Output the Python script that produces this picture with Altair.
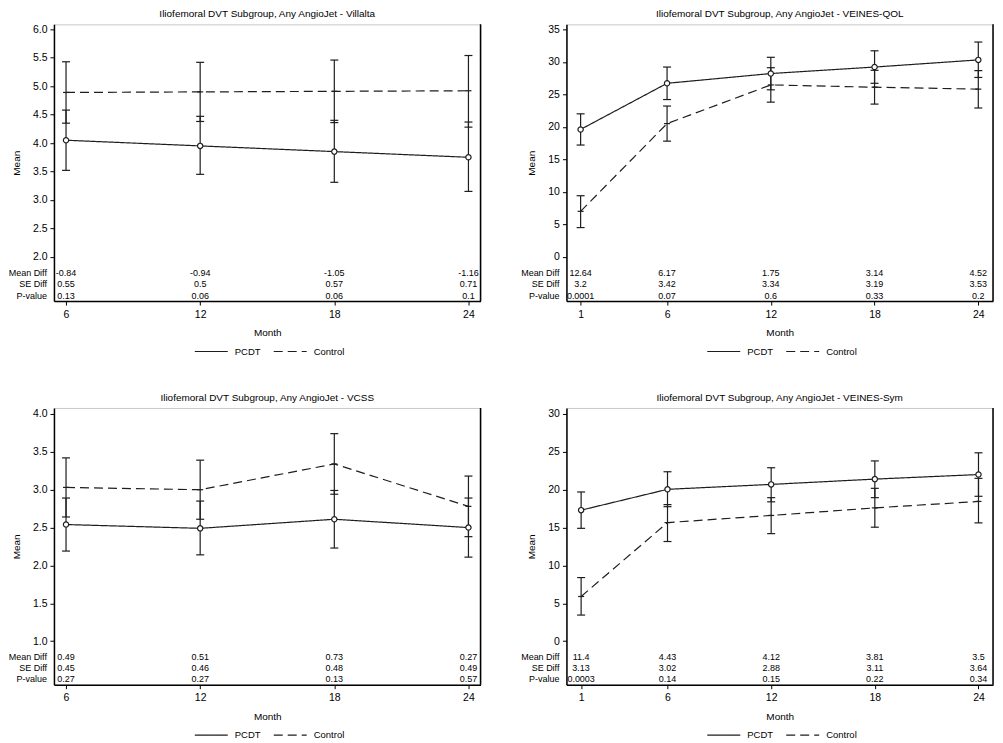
import altair as alt
import pandas as pd

FONT = "Liberation Sans"
INK = "#1e1e1e"

# ---------------- Panel data ----------------
# Villalta
vil_months = [6, 12, 18, 24]
vil_pcdt_mean = [4.05, 3.95, 3.85, 3.75]
vil_pcdt_lo = [3.52, 3.45, 3.31, 3.15]
vil_pcdt_hi = [4.58, 4.47, 4.40, 4.37]
vil_ctrl_mean = [4.89, 4.90, 4.91, 4.92]
vil_ctrl_lo = [4.35, 4.38, 4.36, 4.28]
vil_ctrl_hi = [5.43, 5.42, 5.46, 5.54]
vil_mean_diff = [-0.84, -0.94, -1.05, -1.16]
vil_se_diff = [0.55, 0.5, 0.57, 0.71]
vil_pval = [0.13, 0.06, 0.06, 0.1]
vil_yticks = [2.0, 2.5, 3.0, 3.5, 4.0, 4.5, 5.0, 5.5, 6.0]

# VEINES-QOL
qol_months = [1, 6, 12, 18, 24]
qol_pcdt_mean = [19.6, 26.7, 28.2, 29.2, 30.3]
qol_pcdt_lo = [17.2, 24.2, 25.7, 26.7, 27.6]
qol_pcdt_hi = [22.0, 29.2, 30.7, 31.7, 33.05]
qol_ctrl_mean = [7.0, 20.5, 26.45, 26.1, 25.8]
qol_ctrl_lo = [4.5, 17.8, 23.8, 23.5, 22.9]
qol_ctrl_hi = [9.4, 23.2, 29.1, 28.7, 28.65]
qol_mean_diff = [12.64, 6.17, 1.75, 3.14, 4.52]
qol_se_diff = [3.2, 3.42, 3.34, 3.19, 3.53]
qol_pval = [0.0001, 0.07, 0.6, 0.33, 0.2]
qol_yticks = [0, 5, 10, 15, 20, 25, 30, 35]

# VCSS
vcss_months = [6, 12, 18, 24]
vcss_pcdt_mean = [2.54, 2.49, 2.61, 2.50]
vcss_pcdt_lo = [2.19, 2.14, 2.23, 2.11]
vcss_pcdt_hi = [2.89, 2.85, 2.99, 2.89]
vcss_ctrl_mean = [3.03, 3.00, 3.34, 2.78]
vcss_ctrl_lo = [2.64, 2.61, 2.94, 2.38]
vcss_ctrl_hi = [3.42, 3.39, 3.74, 3.18]
vcss_mean_diff = [0.49, 0.51, 0.73, 0.27]
vcss_se_diff = [0.45, 0.46, 0.48, 0.49]
vcss_pval = [0.27, 0.27, 0.13, 0.57]
vcss_yticks = [1.0, 1.5, 2.0, 2.5, 3.0, 3.5, 4.0]

# VEINES-Sym
sym_months = [1, 6, 12, 18, 24]
sym_pcdt_mean = [17.3, 20.05, 20.7, 21.4, 22.0]
sym_pcdt_lo = [14.9, 17.76, 18.4, 18.95, 19.13]
sym_pcdt_hi = [19.7, 22.37, 22.9, 23.8, 24.87]
sym_ctrl_mean = [5.9, 15.66, 16.6, 17.6, 18.45]
sym_ctrl_lo = [3.45, 13.16, 14.2, 15.05, 15.62]
sym_ctrl_hi = [8.4, 18.03, 18.95, 20.18, 21.5]
sym_mean_diff = [11.4, 4.43, 4.12, 3.81, 3.5]
sym_se_diff = [3.13, 3.02, 2.88, 3.11, 3.64]
sym_pval = [0.0003, 0.14, 0.15, 0.22, 0.34]
sym_yticks = [0, 5, 10, 15, 20, 25, 30]

groups = ["PCDT", "Control"]
row_labels = ["Mean Diff", "SE Diff", "P-value"]

W, H = 427, 277


def panel(title, months, pm, plo, phi, cm, clo, chi, md, se, pv,
          xdom, ydom, yticks, yfmt):
    recs = []
    for i, m in enumerate(months):
        recs.append({"month": m, "group": groups[0], "mean": pm[i], "lo": plo[i], "hi": phi[i]})
    for i, m in enumerate(months):
        recs.append({"month": m, "group": groups[1], "mean": cm[i], "lo": clo[i], "hi": chi[i]})
    df = pd.DataFrame(recs)
    tab = pd.DataFrame({
        "month": months,
        "md": [str(v) for v in md],
        "se": [str(v) for v in se],
        "pv": [str(v) for v in pv],
    })

    xs = alt.Scale(domain=xdom, nice=False, zero=False)
    ys = alt.Scale(domain=ydom, nice=False, zero=False)
    xaxis = alt.Axis(values=months, title="Month", format="d")
    yaxis = alt.Axis(values=yticks, format=yfmt, title="Mean")
    X = alt.X("month:Q", scale=xs, axis=xaxis)

    def Y(field):
        return alt.Y(f"{field}:Q", scale=ys, axis=yaxis)

    base = alt.Chart(df)

    bars = base.mark_rule(color=INK, strokeWidth=1.2).encode(
        x=X, y=Y("lo"), y2="hi:Q")
    caps = base.transform_fold(["lo", "hi"], as_=["k", "v"]).mark_tick(
        orient="horizontal", size=8, thickness=1.2, color=INK, opacity=1
    ).encode(x=X, y=Y("v"))

    line = base.mark_line(color=INK, strokeWidth=1.2).encode(
        x=X,
        y=Y("mean"),
        strokeDash=alt.StrokeDash(
            "group:N",
            scale=alt.Scale(domain=groups, range=[[1, 0], [9, 5]]),
            legend=alt.Legend(
                orient="none", legendX=140, legendY=H + 33,
                direction="horizontal", title=None,
                symbolType="stroke", symbolSize=1089,
                symbolStrokeWidth=1.2, symbolStrokeColor=INK,
                labelFont=FONT, labelFontSize=9.5, labelColor="black",
                labelOffset=6, columnPadding=10, padding=0,
            ),
        ),
    )
    ctrl_mark = base.transform_filter(alt.datum.group == "Control").mark_tick(
        orient="horizontal", size=6, thickness=1.2, color=INK, opacity=1
    ).encode(x=X, y=Y("mean"))
    circ = base.transform_filter(alt.datum.group == "PCDT").mark_point(
        shape="circle", size=28, filled=True, fill="white", stroke=INK,
        strokeWidth=1.2, opacity=1
    ).encode(x=X, y=Y("mean"))

    layers = [bars, caps, line, ctrl_mark, circ]
    row_y = [H - 28, H - 17, H - 5.5]
    for field, yy in zip(["md", "se", "pv"], row_y):
        layers.append(alt.Chart(tab).mark_text(
            font=FONT, fontSize=9, color="black", baseline="middle", align="center"
        ).encode(x=X, y=alt.value(yy), text=f"{field}:N"))
    for lab, yy in zip(row_labels, row_y):
        layers.append(alt.Chart(pd.DataFrame({"label": [lab]})).mark_text(
            font=FONT, fontSize=9, color="black", baseline="middle", align="right"
        ).encode(x=alt.value(-7), y=alt.value(yy), text="label:N"))
    # right frame edge
    layers.append(alt.Chart(pd.DataFrame({"k": [0]})).mark_rule(
        color="black", strokeWidth=1.5
    ).encode(x=alt.value(W), y=alt.value(0), y2=alt.value(H)))

    return alt.layer(*layers).properties(
        width=W, height=H,
        title=alt.TitleParams(title, font=FONT, fontSize=10, fontWeight="normal",
                              color="black", anchor="middle", offset=4.5),
    )


p1 = panel("Iliofemoral DVT Subgroup, Any AngioJet - Villalta", vil_months,
           vil_pcdt_mean, vil_pcdt_lo, vil_pcdt_hi, vil_ctrl_mean, vil_ctrl_lo, vil_ctrl_hi,
           vil_mean_diff, vil_se_diff, vil_pval,
           [5.46, 24.54], [1.221, 6.088], vil_yticks, ".1f")
p2 = panel("Iliofemoral DVT Subgroup, Any AngioJet - VEINES-QOL", qol_months,
           qol_pcdt_mean, qol_pcdt_lo, qol_pcdt_hi, qol_ctrl_mean, qol_ctrl_lo, qol_ctrl_hi,
           qol_mean_diff, qol_se_diff, qol_pval,
           [0.18, 24.85], [-6.81, 35.77], qol_yticks, "d")
p3 = panel("Iliofemoral DVT Subgroup, Any AngioJet - VCSS", vcss_months,
           vcss_pcdt_mean, vcss_pcdt_lo, vcss_pcdt_hi, vcss_ctrl_mean, vcss_ctrl_lo, vcss_ctrl_hi,
           vcss_mean_diff, vcss_se_diff, vcss_pval,
           [5.46, 24.54], [0.426, 4.079], vcss_yticks, ".1f")
p4 = panel("Iliofemoral DVT Subgroup, Any AngioJet - VEINES-Sym", sym_months,
           sym_pcdt_mean, sym_pcdt_lo, sym_pcdt_hi, sym_ctrl_mean, sym_ctrl_lo, sym_ctrl_hi,
           sym_mean_diff, sym_se_diff, sym_pval,
           [0.15, 24.84], [-5.74, 30.79], sym_yticks, "d")

chart = alt.concat(
    p1, p2, p3, p4, columns=2,
    spacing={"row": 107, "column": 86}, bounds="flush",
).resolve_scale(
    strokeDash="independent"
).resolve_legend(
    strokeDash="independent"
).properties(
    padding={"top": 0, "left": 0, "right": 0, "bottom": 0}, background="white"
).configure_view(
    stroke="#c8c8c8", strokeWidth=1
).configure_axis(
    labelFont=FONT, titleFont=FONT, labelFontSize=10.5, titleFontSize=10,
    titleFontWeight="normal", labelColor="black", titleColor="black",
    domainColor="black", domainWidth=1.5, tickColor="black", tickSize=4,
    tickWidth=1, grid=False,
).configure_axisX(
    titlePadding=8, labelPadding=4
).configure_axisY(
    titlePadding=11, labelPadding=3
)

chart.save("out.html", embed_options={"renderer": "svg", "actions": False})
